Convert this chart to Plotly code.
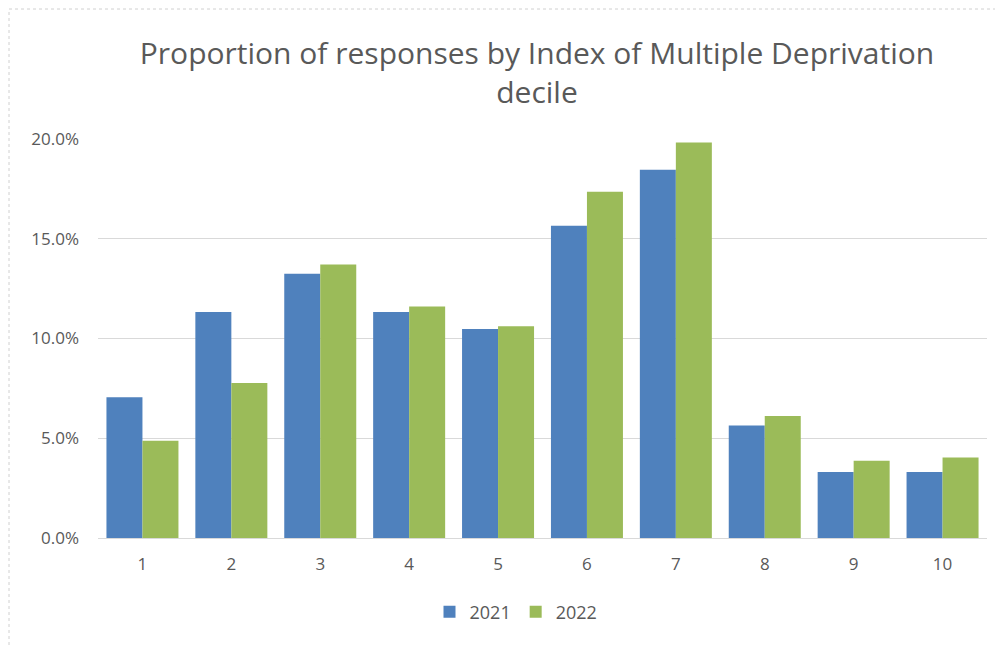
import plotly.graph_objects as go

deciles = ["1", "2", "3", "4", "5", "6", "7", "8", "9", "10"]
y2021 = [0.0705, 0.1133, 0.1325, 0.1133, 0.1048, 0.1565, 0.1846, 0.0564, 0.0331, 0.0331]
y2022 = [0.0488, 0.0777, 0.1371, 0.1161, 0.1061, 0.1736, 0.1983, 0.0612, 0.0387, 0.0404]
series_names = ["2021", "2022"]
colors = ["#4f81bd", "#9bbb59"]

OFF = 8  # page body margin
W, H = 1003, 648
L, R, T, B = 98 - OFF, 24, 139 - OFF, 118
pw, ph = W - L - R, H - T - B

def px(x):
    return (x - OFF - L) / pw

def py(y):
    return (H - B - (y - OFF)) / ph

fig = go.Figure()
for name, vals, c in zip(series_names, [y2021, y2022], colors):
    fig.add_trace(go.Bar(x=deciles, y=vals, name=name, marker=dict(color=c, line=dict(width=0))))

font = "Open Sans"
fig.update_layout(
    width=W, height=H,
    margin=dict(l=L, r=R, t=T, b=B),
    paper_bgcolor="white", plot_bgcolor="white",
    barmode="group", bargap=0.19, bargroupgap=0,
    title=dict(text="Proportion of responses by Index of Multiple Deprivation<br>decile",
               x=(537 - OFF) / W, xanchor="center", y=1 - 56 / H, yanchor="top",
               font=dict(family=font, size=30, color="#595959")),
    xaxis=dict(showgrid=False, showline=True, linecolor="#d9d9d9", linewidth=1,
               ticks="", ticklabelstandoff=11,
               tickfont=dict(family=font, size=17, color="#595959")),
    yaxis=dict(range=[0, 0.2], dtick=0.05, tickformat=".1%", showgrid=True,
               gridcolor="#d9d9d9", gridwidth=1, zeroline=False, showline=False,
               ticks="", ticklabelstandoff=18,
               tickfont=dict(family=font, size=17, color="#595959")),
    legend=dict(orientation="h", x=px(516), xanchor="center", y=py(612), yanchor="middle",
                font=dict(family=font, size=18, color="#595959"), itemwidth=30,
                traceorder="normal"),
    showlegend=True,
)
fig.add_shape(type="rect", xref="paper", yref="paper",
              x0=px(9), x1=px(1015), y0=py(670), y1=py(9),
              line=dict(color="#d0d0d0", width=1, dash="dot"), layer="below")

fig.write_html("out.html")
